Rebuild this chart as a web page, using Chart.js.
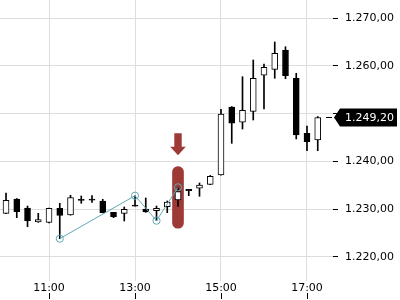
<!DOCTYPE html>
<html>
<head>
<meta charset="utf-8">
<script src="https://cdn.jsdelivr.net/npm/chart.js@4.4.1/dist/chart.umd.min.js"></script>
<style>
html,body{margin:0;padding:0;background:#fff;}
canvas{display:block;}
</style>
</head>
<body>
<canvas id="c" width="400" height="300"></canvas>
<script>
// ---- data ----
const times = ["10:00","10:15","10:30","10:45","11:00","11:15","11:30","11:45","12:00","12:15",
               "12:30","12:45","13:00","13:15","13:30","13:45","14:00","14:15","14:30","14:45",
               "15:00","15:15","15:30","15:45","16:00","16:15","16:30","16:45","17:00","17:15"];
const opens  = [1229.10,1232.10,1230.21,1227.28,1227.21,1230.15,1228.75,1231.90,1231.95,1231.68,
                1229.31,1229.10,1230.85,1230.00,1229.65,1230.49,1231.89,1234.09,1234.35,1235.18,
                1237.14,1251.40,1248.19,1250.49,1258.05,1259.30,1263.35,1257.42,1245.88,1244.48];
const highs  = [1233.36,1232.20,1230.63,1229.10,1230.20,1231.20,1232.88,1232.73,1232.80,1232.04,
                1229.31,1230.42,1232.79,1232.31,1230.63,1231.68,1234.55,1234.10,1235.46,1237.03,
                1250.91,1251.50,1257.75,1261.25,1260.42,1265.03,1264.04,1258.46,1247.41,1249.40];
const lows   = [1229.00,1228.18,1226.29,1227.20,1227.10,1223.78,1228.70,1231.20,1231.40,1229.20,
                1228.18,1227.49,1230.60,1229.30,1227.55,1229.23,1230.53,1232.79,1232.67,1235.10,
                1237.10,1243.78,1246.78,1248.67,1250.98,1257.42,1257.33,1244.69,1242.23,1242.23];
const closes = [1231.83,1229.44,1227.55,1227.80,1230.15,1228.64,1232.42,1231.90,1231.95,1229.23,
                1228.39,1229.94,1230.60,1229.38,1230.15,1231.47,1233.67,1233.88,1235.04,1236.86,
                1249.93,1247.98,1250.70,1257.42,1259.72,1262.66,1257.96,1245.52,1244.12,1249.20];
const trendTimes  = ["11:15","13:00","13:30","14:00"];
const trendValues = [1223.78,1232.79,1227.55,1234.55];
const markerTime  = "14:00";
const markerRange = [1225.96,1238.88];
const yTickValues = [1220,1230,1240,1250,1260,1270];
const xTickLabels = ["11:00","13:00","15:00","17:00"];
const lastPrice   = 1249.20;

// ---- helpers ----
const toMin = s => { const p = s.split(":"); return (+p[0])*60 + (+p[1]); };
const pad2 = n => (n < 10 ? "0" : "") + n;
const fmtTime = m => pad2(Math.floor(m/60)) + ":" + pad2(m % 60);
const fmtPrice = v => {
  const s = v.toFixed(2).split(".");
  return s[0].replace(/\B(?=(\d{3})+(?!\d))/g, ".") + "," + s[1];
};

const RED = "#9d3a35";
const TEAL = "#62a9b5";

const wickData = times.map((t,i) => ({x: toMin(t), y: [lows[i], highs[i]]}));
const bodyData = times.map((t,i) => {
  let lo = Math.min(opens[i], closes[i]), hi = Math.max(opens[i], closes[i]);
  if (hi - lo < 0.25) { const m = (hi+lo)/2; lo = m - 0.12; hi = m + 0.12; }
  return {x: toMin(t), y: [lo, hi]};
});
const bodyColors = times.map((t,i) => closes[i] > opens[i] + 0.25 ? "#ffffff" : "#000000");

const overlay = {
  id: "overlay",
  afterDraw(chart) {
    const ctx = chart.ctx, xs = chart.scales.x, ys = chart.scales.y;
    ctx.save();
    // x tick marks under labels
    ctx.strokeStyle = "#000"; ctx.lineWidth = 1;
    xTickLabels.forEach(t => {
      const px = Math.round(xs.getPixelForValue(toMin(t))) + 0.5;
      ctx.beginPath(); ctx.moveTo(px, 293); ctx.lineTo(px, 299); ctx.stroke();
    });
    // arrow above marker
    const mx = xs.getPixelForValue(toMin(markerTime));
    const tip = ys.getPixelForValue(markerRange[1]) - 11.5;
    ctx.fillStyle = RED;
    ctx.beginPath();
    ctx.moveTo(mx-3.7, tip-22); ctx.lineTo(mx+3.7, tip-22); ctx.lineTo(mx+3.7, tip-8.3);
    ctx.lineTo(mx+7.8, tip-8.3); ctx.lineTo(mx, tip); ctx.lineTo(mx-7.8, tip-8.3);
    ctx.lineTo(mx-3.7, tip-8.3); ctx.closePath(); ctx.fill();
    // last price tag
    const py = ys.getPixelForValue(lastPrice);
    const ry = Math.round(py) + 0.5;
    ctx.strokeStyle = "#000";
    ctx.beginPath(); ctx.moveTo(326, ry); ctx.lineTo(332, ry); ctx.stroke();
    ctx.fillStyle = "#000";
    ctx.beginPath();
    ctx.moveTo(334, py); ctx.lineTo(340, py-9); ctx.lineTo(397, py-9);
    ctx.lineTo(397, py+9); ctx.lineTo(340, py+9); ctx.closePath(); ctx.fill();
    ctx.fillStyle = "#fff";
    ctx.font = "11px 'DejaVu Sans'";
    ctx.textAlign = "left"; ctx.textBaseline = "middle";
    ctx.fillText(fmtPrice(lastPrice), 345, py + 0.5);
    ctx.restore();
  }
};

Chart.defaults.font.family = "'DejaVu Sans', sans-serif";
Chart.defaults.font.size = 11;
Chart.defaults.color = "#111";

new Chart(document.getElementById("c"), {
  type: "bar",
  data: {
    datasets: [
      { type: "line", data: trendTimes.map((t,i) => ({x: toMin(t), y: trendValues[i]})),
        borderColor: TEAL, borderWidth: 1, pointRadius: 3.6, pointBorderWidth: 1,
        pointBorderColor: TEAL, pointBackgroundColor: "rgba(0,0,0,0)", tension: 0, order: 1 },
      { type: "bar", data: bodyData, backgroundColor: bodyColors, borderColor: "#000",
        borderWidth: 1, borderSkipped: false, barThickness: 6, order: 4 },
      { type: "bar", data: wickData, backgroundColor: "#000", barThickness: 1, order: 5 },
      { type: "bar", data: [{x: toMin(markerTime), y: markerRange}], backgroundColor: RED,
        barThickness: 11, borderRadius: 6, borderSkipped: false, order: 10 }
    ]
  },
  options: {
    responsive: false,
    animation: false,
    devicePixelRatio: 1,
    layout: { padding: 0, autoPadding: false },
    datasets: { bar: { grouped: false } },
    plugins: { legend: { display: false }, tooltip: { enabled: false } },
    scales: {
      x: {
        type: "linear", position: "bottom", offset: false,
        min: 591.6, max: 1056.3,
        afterBuildTicks: a => { a.ticks = xTickLabels.map(t => ({value: toMin(t)})); },
        afterFit: s => { s.height = 19; s.paddingLeft = 0; s.paddingRight = 0; },
        grid: { color: "#dddddd", offset: false, drawTicks: false },
        border: { display: false },
        ticks: { callback: v => fmtTime(v), color: "#000", padding: 1, maxRotation: 0, autoSkip: false }
      },
      y: {
        type: "linear", position: "right",
        min: 1214.90, max: 1273.84,
        afterBuildTicks: a => { a.ticks = yTickValues.map(v => ({value: v})); },
        afterFit: s => { s.width = 67; s.paddingTop = 0; s.paddingBottom = 0; },
        grid: { color: "#dddddd", tickColor: "#000", tickLength: 5 },
        border: { display: false },
        ticks: { callback: v => fmtPrice(v), color: "#000", padding: 7 }
      }
    }
  },
  plugins: [overlay]
});
</script>
</body>
</html>
